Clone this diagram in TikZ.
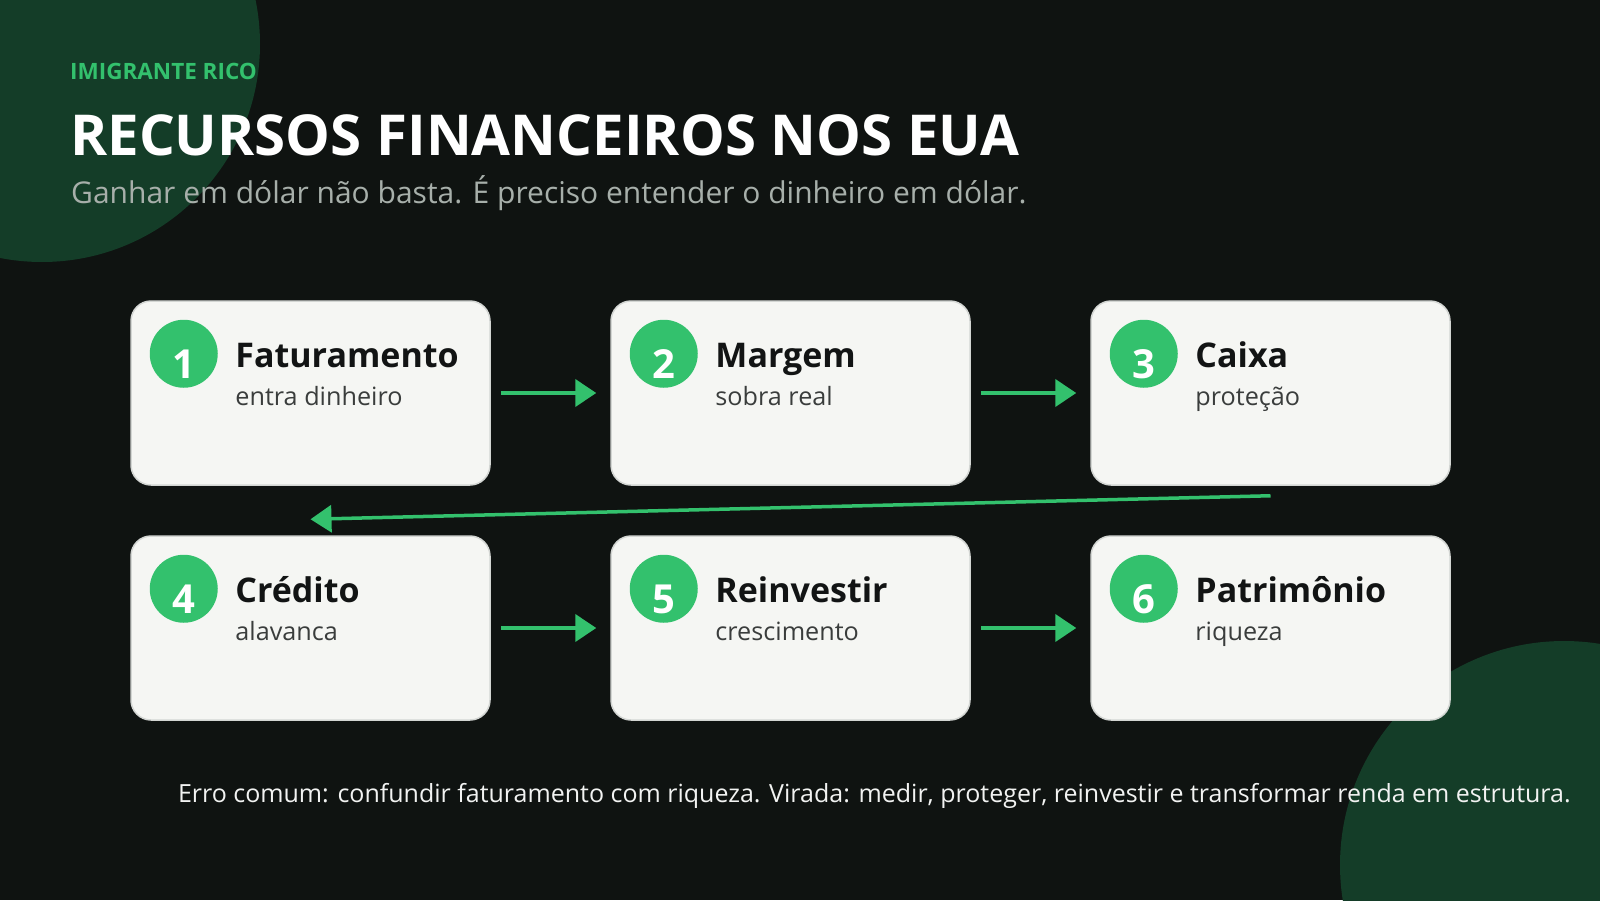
\documentclass[tikz,border=0pt]{standalone}
\usepackage{fontspec}
\setmainfont{Open Sans}
\usetikzlibrary{arrows.meta,calc}
\definecolor{bg}{HTML}{0F1311}
\definecolor{deco}{HTML}{143D28}
\definecolor{accent}{HTML}{33C16D}
\definecolor{cardfill}{HTML}{F5F6F3}
\definecolor{cardline}{HTML}{D3D6D3}
\definecolor{subgray}{HTML}{A7AFAA}
\definecolor{titledark}{HTML}{121414}
\definecolor{descgray}{HTML}{3A3D3C}
\definecolor{foottext}{HTML}{F2F3F2}
\tikzset{
  card/.style={draw=cardline, line width=1.5pt, fill=cardfill, rounded corners=20pt,
    minimum width=359pt, minimum height=184pt, inner sep=0pt},
  badge/.style={circle, fill=accent, minimum size=68pt, inner sep=0pt},
  numtxt/.style={anchor=base, text=white, inner sep=0pt, font=\bfseries\fontsize{40}{44}\selectfont},
  ttl/.style={anchor=base west, text=titledark, inner sep=0pt, font=\bfseries\fontsize{34}{38}\selectfont},
  desc/.style={anchor=base west, text=descgray, inner sep=0pt, font=\fontsize{25.2}{29}\selectfont},
  flow/.style={draw=accent, line width=4pt, -{Triangle[length=21pt,width=27pt]}},
  flowback/.style={draw=accent, line width=3.5pt, -{Triangle[length=21pt,width=27pt]}}
}
\begin{document}
\begin{tikzpicture}[x=1pt,y=-1pt]
\useasboundingbox (0,0) rectangle (1600,900);
\fill[bg] (0,0) rectangle (1600,900);
\begin{scope}
  \clip (0,0) rectangle (1600,900);
  \fill[deco] (42,44) circle[radius=218pt];
  \fill[deco] (1564,865) circle[radius=224pt];
\end{scope}

\node[anchor=base west, inner sep=0pt, text=accent, font=\bfseries\fontsize{22.5}{26}\selectfont] (brand) at (70,79) {IMIGRANTE RICO};
\node[anchor=base west, inner sep=0pt, text=white, font=\bfseries\fontsize{56.4}{62}\selectfont] (title) at (70,155) {RECURSOS FINANCEIROS NOS EUA};
\node[anchor=base west, inner sep=0pt, text=subgray, font=\fontsize{30}{34}\selectfont] (subtitle) at (71,203) {Ganhar em dólar não basta. É preciso entender o dinheiro em dólar.};

\foreach \i/\x/\y/\t/\d in {1/310.5/393/Faturamento/entra dinheiro,
                             2/790.5/393/Margem/sobra real,
                             3/1270.5/393/Caixa/proteção,
                             4/310.5/628/Crédito/alavanca,
                             5/790.5/628/Reinvestir/crescimento,
                             6/1270.5/628/Patrimônio/riqueza}{
  \node[card] (c\i) at (\x,\y) {};
  \node[badge] (b\i) at ($(c\i.north west)+(53.5,53.5)$) {};
  \node[numtxt] (n\i) at ($(b\i.center)+(0,25)$) {\i};
  \node[ttl] (t\i) at ($(c\i.north west)+(105,67)$) {\t};
  \node[desc] (d\i) at ($(c\i.north west)+(105,105)$) {\d};
}

\draw[flow] ($(c1.east)+(10,0)$) -- ($(c2.west)+(-14,0)$);
\draw[flow] ($(c2.east)+(10,0)$) -- ($(c3.west)+(-14,0)$);
\draw[flowback] ($(c3.south)+(0,10)$) -- ($(c4.north)+(0,-16)$);
\draw[flow] ($(c4.east)+(10,0)$) -- ($(c5.west)+(-14,0)$);
\draw[flow] ($(c5.east)+(10,0)$) -- ($(c6.west)+(-14,0)$);

\node[anchor=base east, inner sep=0pt, text=foottext, font=\fontsize{25}{29}\selectfont] (footer) at (1571,802) {Erro comum: confundir faturamento com riqueza. Virada: medir, proteger, reinvestir e transformar renda em estrutura.};
\end{tikzpicture}
\end{document}
